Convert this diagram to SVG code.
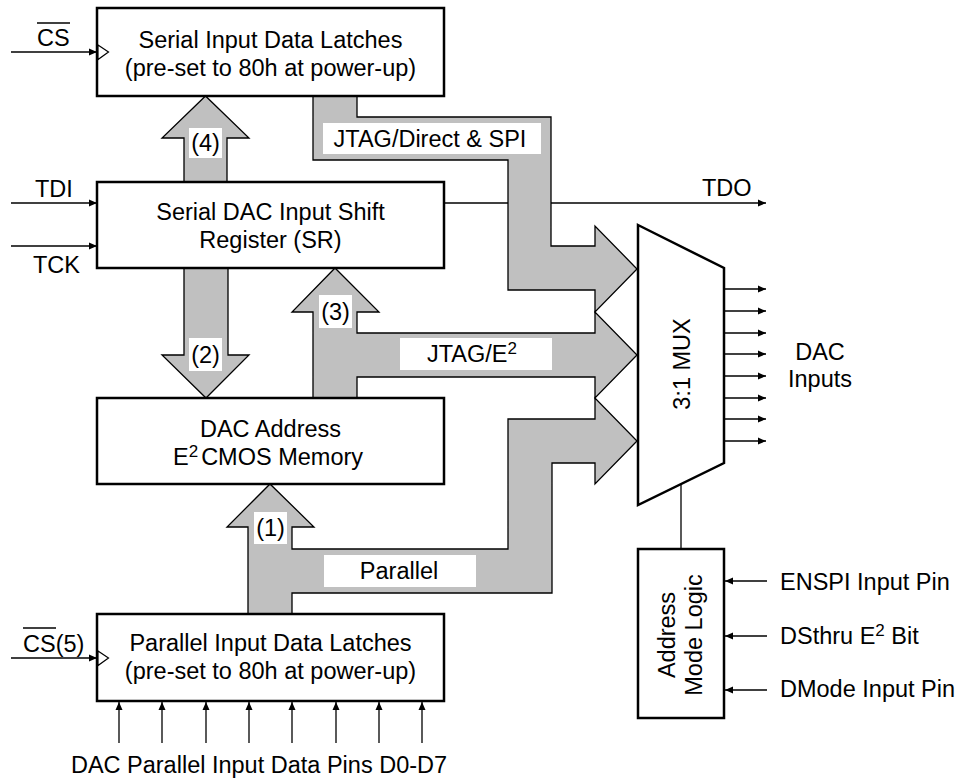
<svg xmlns="http://www.w3.org/2000/svg" width="961" height="778" viewBox="0 0 961 778">
<defs>
<marker id="ah" markerWidth="9" markerHeight="8" refX="8" refY="4" orient="auto" markerUnits="userSpaceOnUse"><path d="M0,0.5 L8,4 L0,7.5 z" fill="#000"/></marker>
<style>
text{font-family:"Liberation Sans",Arial,Helvetica,sans-serif;font-size:23.5px;fill:#000}
.box{fill:#fff;stroke:#000;stroke-width:2.5}
.bus{fill:#c0c0c0;stroke:#000;stroke-width:1.3;stroke-linejoin:miter}
.wire{fill:none;stroke:#000;stroke-width:1.3}
.arr{fill:none;stroke:#000;stroke-width:1.3;marker-end:url(#ah)}
.lbl{fill:#fff;stroke:none}
.clk{fill:#fff;stroke:#000;stroke-width:1.2}
.mid{text-anchor:middle}
.sup{font-size:17px}
</style>
</defs>

<g id="connectors">
  <line class="arr" x1="444" y1="203" x2="766" y2="203"/>
  <line class="arr" x1="11" y1="52" x2="97" y2="52"/>
  <line class="arr" x1="11" y1="203" x2="97" y2="203"/>
  <line class="arr" x1="11" y1="246" x2="97" y2="246"/>
  <line class="arr" x1="11" y1="658" x2="97" y2="658"/>
  <line class="arr" x1="119" y1="743" x2="119" y2="702"/>
  <line class="arr" x1="162" y1="743" x2="162" y2="702"/>
  <line class="arr" x1="206" y1="743" x2="206" y2="702"/>
  <line class="arr" x1="249" y1="743" x2="249" y2="702"/>
  <line class="arr" x1="292" y1="743" x2="292" y2="702"/>
  <line class="arr" x1="336" y1="743" x2="336" y2="702"/>
  <line class="arr" x1="379" y1="743" x2="379" y2="702"/>
  <line class="arr" x1="422" y1="743" x2="422" y2="702"/>
  <line class="arr" x1="724" y1="289" x2="766" y2="289"/>
  <line class="arr" x1="724" y1="311" x2="766" y2="311"/>
  <line class="arr" x1="724" y1="333" x2="766" y2="333"/>
  <line class="arr" x1="724" y1="354" x2="766" y2="354"/>
  <line class="arr" x1="724" y1="376" x2="766" y2="376"/>
  <line class="arr" x1="724" y1="398" x2="766" y2="398"/>
  <line class="arr" x1="724" y1="419" x2="766" y2="419"/>
  <line class="arr" x1="724" y1="441" x2="766" y2="441"/>
  <line class="wire" x1="681" y1="484" x2="681" y2="549"/>
  <line class="arr" x1="767" y1="581" x2="725" y2="581"/>
  <line class="arr" x1="767" y1="636" x2="725" y2="636"/>
  <line class="arr" x1="767" y1="690" x2="725" y2="690"/>

  <polygon class="bus" points="313,96 357,96 357,117 551,117 551,246 595,246 595,226 637,269 595,312 595,290 508,290 508,160 313,160"/>
  <polygon class="bus" points="184,182 184,138 162,138 205.5,96 249,138 227,138 227,182"/>
  <polygon class="bus" points="184,268 228,268 228,355 249,355 206,398 162,355 184,355"/>
  <polygon class="bus" points="313,398 313,312 292,312 335,268 379,312 357,312 357,333 595,333 595,312 637,355 595,398 595,377 357,377 357,398"/>
  <polygon class="bus" points="248,614 248,527 227,527 270,484 314,527 292,527 292,549 508,549 508,419 595,419 595,398 637,441 595,484 595,463 552,463 552,593 292,593 292,614"/>

  <rect class="lbl" x="189" y="128" width="33" height="30"/>
  <text class="mid" x="205.5" y="151">(4)</text>
  <rect class="lbl" x="189" y="338" width="33" height="33"/>
  <text class="mid" x="205.5" y="363">(2)</text>
  <rect class="lbl" x="319" y="295" width="33" height="33"/>
  <text class="mid" x="335.5" y="320">(3)</text>
  <rect class="lbl" x="254" y="512" width="33" height="32"/>
  <text class="mid" x="270.5" y="536">(1)</text>
  <rect class="lbl" x="323" y="123" width="218" height="31"/>
  <text class="mid" x="430" y="147">JTAG/Direct &amp; SPI</text>
  <rect class="lbl" x="400" y="338" width="152" height="32"/>
  <text class="mid" x="472" y="362">JTAG/E<tspan class="sup" dy="-8">2</tspan></text>
  <rect class="lbl" x="324" y="555" width="152" height="32"/>
  <text class="mid" x="399" y="579">Parallel</text>
</g>

<g id="serial_latches">
  <rect class="box" x="97" y="8" width="347" height="88"/>
  <polygon class="clk" points="98,45 108.5,52 98,59.5"/>
  <text class="mid" x="270.5" y="48">Serial Input Data Latches</text>
  <text class="mid" x="270.5" y="76">(pre-set to 80h at power-up)</text>
</g>

<g id="shift_register">
  <rect class="box" x="97" y="182" width="347" height="86"/>
  <text class="mid" x="270.5" y="220">Serial DAC Input Shift</text>
  <text class="mid" x="270.5" y="248">Register (SR)</text>
</g>

<g id="e2_memory">
  <rect class="box" x="97" y="398" width="347" height="86"/>
  <text class="mid" x="270.5" y="437">DAC Address</text>
  <text class="mid" x="268" y="465">E<tspan class="sup" dy="-8">2</tspan><tspan dx="3" dy="8">CMOS Memory</tspan></text>
</g>

<g id="parallel_latches">
  <rect class="box" x="97" y="614" width="347" height="87"/>
  <polygon class="clk" points="98,651 108.5,658 98,665.5"/>
  <text class="mid" x="270.5" y="651">Parallel Input Data Latches</text>
  <text class="mid" x="270.5" y="679">(pre-set to 80h at power-up)</text>
</g>

<g id="mux">
  <polygon class="box" points="638,225 724,268 724,463 638,505"/>
  <text class="mid" transform="translate(690,364) rotate(-90)">3:1 MUX</text>
</g>

<g id="address_mode_logic">
  <rect class="box" x="638" y="549" width="86" height="169"/>
  <text class="mid" transform="translate(675,635) rotate(-90)">Address</text>
  <text class="mid" transform="translate(702,635) rotate(-90)">Mode Logic</text>
</g>

<g id="labels">
  <text x="37" y="46">CS</text>
  <line class="wire" x1="37" y1="23" x2="70" y2="23"/>
  <text x="35" y="197">TDI</text>
  <text x="33" y="273">TCK</text>
  <text x="23" y="652">CS(5)</text>
  <line class="wire" x1="23" y1="628" x2="56" y2="628"/>
  <text x="702" y="196">TDO</text>
  <text class="mid" x="820" y="360">DAC</text>
  <text class="mid" x="820" y="387">Inputs</text>
  <text x="780" y="590">ENSPI Input Pin</text>
  <text x="780" y="644">DSthru E<tspan class="sup" dy="-8">2</tspan><tspan dy="8"> Bit</tspan></text>
  <text x="780" y="697">DMode Input Pin</text>
  <text class="mid" x="259" y="773">DAC Parallel Input Data Pins D0-D7</text>
</g>
</svg>
